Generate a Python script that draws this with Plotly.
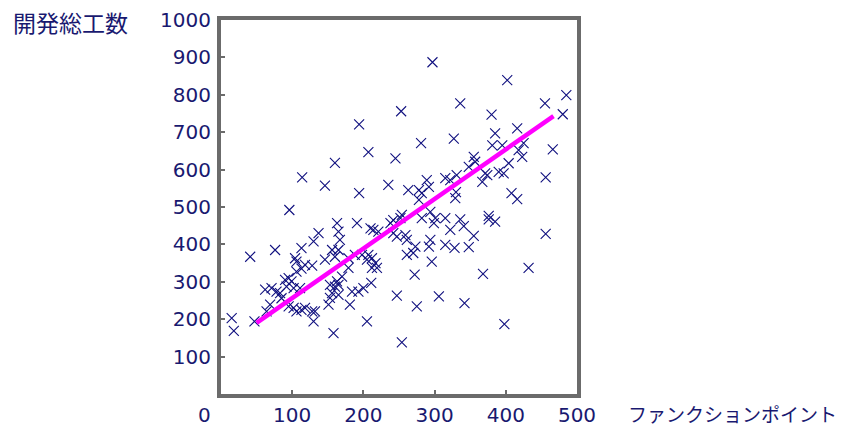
import plotly.graph_objects as go

# Function points (x) and total development effort (y)
fp = [297, 402, 253, 194, 336, 455, 485, 480, 380, 327, 281, 385, 416, 207, 245, 160,
      114, 146, 96, 235, 194, 263, 289, 292, 278, 282, 278, 315, 322, 331, 329, 330,
      381, 395, 466, 425, 418, 423, 355, 357, 348, 404, 390, 397, 371, 374, 367, 456,
      408, 416, 336, 341, 376, 376, 385, 355, 456, 348, 328, 432, 368, 342, 398, 272,
      306, 247, 275, 205, 254, 211, 158, 170, 165, 165, 184, 193, 200, 181, 212, 219,
      179, 198, 207, 212, 217, 205, 165, 179, 188, 210, 214, 221, 242, 247, 259, 261,
      254, 252, 242, 238, 191, 165, 167, 163, 294, 299, 301, 282, 315, 322, 294, 292,
      273, 270, 261, 315, 296, 137, 130, 113, 76, 41, 156, 160, 104, 106, 146, 118,
      128, 113, 15, 18, 47, 62, 71, 78, 69, 64, 83, 85, 90, 95, 99, 92,
      102, 106, 111, 95, 102, 106, 113, 118, 128, 132, 130, 151, 153, 156, 160, 153, 163]
effort = [887, 839, 756, 721, 777, 777, 799, 748, 747, 683, 671, 697, 710, 647, 630, 618,
          579, 557, 492, 559, 537, 545, 572, 554, 545, 537, 519, 577, 572, 585, 524, 540,
          665, 665, 654, 671, 652, 634, 634, 621, 607, 617, 594, 590, 590, 585, 567, 579,
          537, 521, 467, 449, 476, 467, 461, 423, 428, 393, 391, 337, 321, 243, 187, 319,
          261, 263, 234, 194, 138, 297, 163, 314, 292, 265, 274, 274, 283, 239, 337, 337,
          337, 372, 372, 363, 350, 359, 385, 363, 372, 443, 439, 434, 430, 421, 425, 412,
          479, 470, 465, 457, 457, 434, 412, 457, 487, 457, 470, 470, 470, 439, 412, 394,
          394, 377, 372, 399, 354, 430, 408, 390, 385, 367, 385, 367, 363, 354, 359, 345,
          343, 335, 203, 169, 194, 279, 283, 274, 239, 221, 270, 256, 305, 310, 301, 287,
          283, 327, 283, 234, 230, 221, 225, 230, 221, 221, 194, 239, 257, 270, 287, 292, 301]

# Regression line
reg_slope = 1.326
reg_intercept = 123.7
reg_x = [50, 467]
reg_y = [reg_intercept + reg_slope * v for v in reg_x]

x_ticks = [0, 100, 200, 300, 400, 500]
y_ticks = [100, 200, 300, 400, 500, 600, 700, 800, 900, 1000]

x_title = "ファンクションポイント"
y_title = "開発総工数"

TXT = "#191970"
FRAME = "#6b6b6b"
num_font = dict(family="DejaVu Sans", size=20, color=TXT)

fig = go.Figure()
fig.add_trace(go.Scatter(
    x=fp, y=effort, mode="markers",
    marker=dict(symbol="x-thin", size=10, line=dict(color="#10107f", width=1.1)),
    showlegend=False, hoverinfo="x+y"))
fig.add_trace(go.Scatter(
    x=reg_x, y=reg_y, mode="lines",
    line=dict(color="#ff00ff", width=4.5), showlegend=False))

fig.update_layout(
    width=842, height=429,
    margin=dict(l=221, r=265, t=19.5, b=34.5, pad=0, autoexpand=False),
    paper_bgcolor="white", plot_bgcolor="white",
    xaxis=dict(range=[0, 500], tickvals=x_ticks[1:], ticktext=[str(v) for v in x_ticks[1:]],
               showgrid=False, zeroline=False, showline=True, mirror=True, automargin=False,
               linewidth=4, linecolor=FRAME, ticks="inside", ticklen=4, tickwidth=2,
               tickcolor=FRAME, tickfont=num_font),
    yaxis=dict(range=[0, 1000], tickvals=y_ticks, ticktext=[str(v) for v in y_ticks],
               showgrid=False, zeroline=False, showline=True, mirror=True, automargin=False,
               linewidth=4, linecolor=FRAME, ticks="inside", ticklen=4, tickwidth=2,
               tickcolor=FRAME, tickfont=num_font, ticklabelstandoff=2),
    annotations=[
        dict(text=str(x_ticks[0]), x=0, y=0, xref="x", yref="paper", xanchor="center",
             yanchor="top", xshift=-17, yshift=-7, showarrow=False, font=num_font),
        dict(text=x_title, x=1, y=0, xref="paper", yref="paper", xanchor="left",
             yanchor="middle", xshift=49, yshift=-19, showarrow=False,
             font=dict(family="Noto Sans CJK JP", size=19, color=TXT)),
        dict(text=y_title, x=0, y=1, xref="paper", yref="paper", xanchor="left",
             yanchor="middle", xshift=-210, yshift=-2, showarrow=False,
             font=dict(family="Noto Sans CJK JP", size=23, color=TXT)),
    ],
)

# remove the browser's default 8px page margin so the figure fills the window exactly
fig.write_html("out.html", config={"displayModeBar": False},
               post_script="document.body.style.margin='0';")
